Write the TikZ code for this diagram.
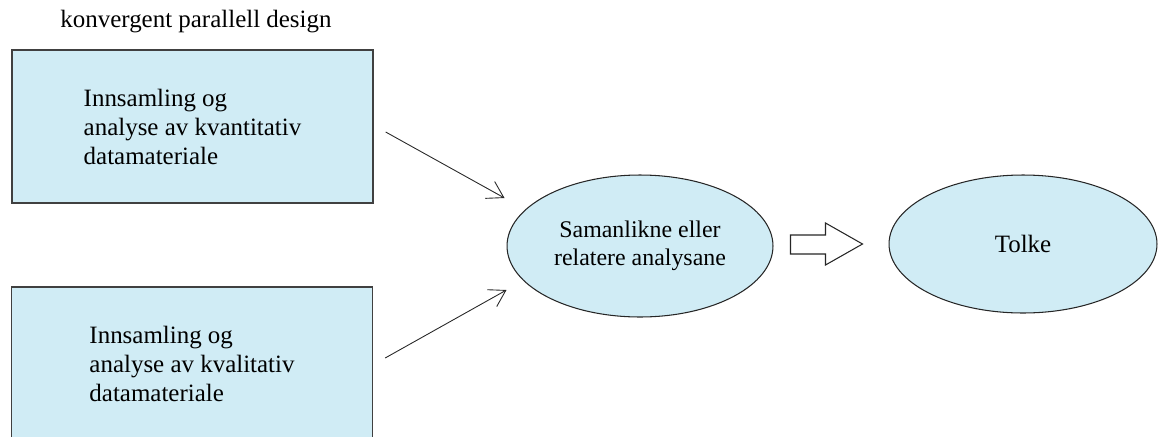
\documentclass[tikz,border=0pt]{standalone}
\usepackage{fontspec}
\setmainfont{Liberation Serif}
\usetikzlibrary{arrows.meta,shapes.geometric,calc}
\definecolor{lyseblaa}{RGB}{208,236,245}
\tikzset{
  boks/.style={draw=black!75, line width=0.8pt, fill=lyseblaa, minimum width=7.22cm, minimum height=3.06cm,
    align=left, font=\fontsize{14.2}{16.5}\selectfont},
  oval/.style={ellipse, draw=black!85, line width=0.6pt, fill=lyseblaa, align=center, inner sep=0pt,
    font=\fontsize{13.6}{16}\selectfont},
  pil/.style={-{Straight Barb[length=9pt,width=11pt]}, black!85, line width=0.5pt},
  blokkpil/.style={draw=black!85, line width=0.6pt, fill=white},
}
\begin{document}
\begin{tikzpicture}[x=0.02cm,y=-0.02cm]
  \useasboundingbox (0,0) rectangle (1158,436);
  \clip (0,0) rectangle (1158,436);
  \node[anchor=base, font=\fontsize{14.2}{16.5}\selectfont] (tittel) at (196,28) {konvergent parallell design};
  \node[boks] (kvant) at (192.5,126.5) {Innsamling og\\analyse av kvantitativ\\datamateriale};
  \node[boks] (kval) at (192,363.5) {Innsamling og\\analyse av kvalitativ\\datamateriale};
  \node[oval, minimum width=5.32cm, minimum height=2.84cm] (samanlikn) at (640,246) {Samanlikne eller\\relatere analysane};
  \node[oval, minimum width=5.36cm, minimum height=2.76cm, font=\fontsize{14.2}{16.5}\selectfont] (tolke) at (1023,244) {Tolke};
  % piler inn mot samanlikninga
  \draw[pil] ($(kvant.east)+(12,5.5)$) -- ($(samanlikn.west)+(-2,-48)$);
  \draw[pil] ($(kval.east)+(12,-5.5)$) -- ($(samanlikn.west)+(0,44)$);
  % blokkpil
  \draw[blokkpil] ($(samanlikn.east)+(17,-11)$) -- ++(35,0) -- ++(0,-12) -- ++(37,21) -- ++(-37,21) -- ++(0,-11) -- ++(-35,0) -- cycle;
\end{tikzpicture}
\end{document}
